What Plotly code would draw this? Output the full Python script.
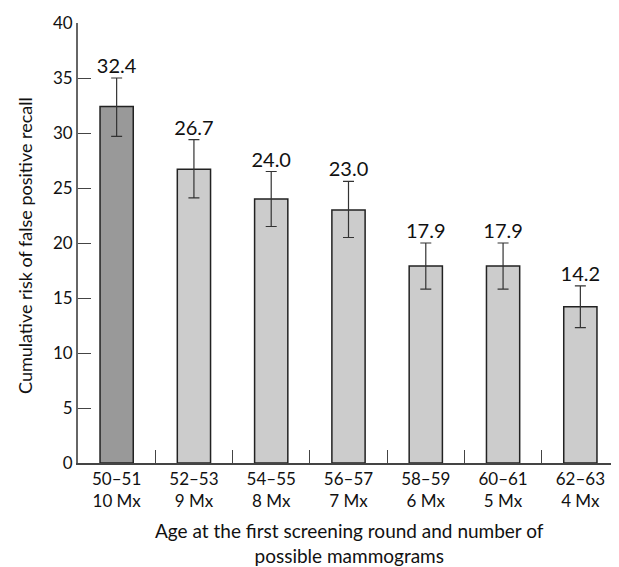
import plotly.graph_objects as go

categories = ["50–51<br>10 Mx", "52–53<br>9 Mx", "54–55<br>8 Mx", "56–57<br>7 Mx",
              "58–59<br>6 Mx", "60–61<br>5 Mx", "62–63<br>4 Mx"]
risk = [32.4, 26.7, 24.0, 23.0, 17.9, 17.9, 14.2]
ci_upper = [35.0, 29.4, 26.5, 25.6, 20.0, 20.0, 16.1]
ci_lower = [29.7, 24.1, 21.5, 20.5, 15.8, 15.8, 12.3]
labels = ["32.4", "26.7", "24.0", "23.0", "17.9", "17.9", "14.2"]
bar_colors = ["#999999"] + ["#cccccc"] * 6
x_title = "Age at the first screening round and number of<br>possible mammograms"
y_title = "Cumulative risk of false positive recall"

err_plus = [u - v for u, v in zip(ci_upper, risk)]
err_minus = [v - l for v, l in zip(risk, ci_lower)]

FONT = "Lato"
# page has an 8px body margin; figure coordinates are page minus 8
fig = go.Figure()
fig.add_trace(go.Bar(
    x=categories, y=risk, width=0.43,
    marker=dict(color=bar_colors, line=dict(color="#222222", width=1.5)),
    error_y=dict(type="data", array=err_plus, arrayminus=err_minus,
                 color="#333333", thickness=1.2, width=5.5),
    showlegend=False, hoverinfo="skip",
))
fig.add_trace(go.Scatter(
    x=categories, y=ci_upper, mode="text", text=labels,
    textposition="top center",
    textfont=dict(family=FONT, size=20, color="#111111"),
    showlegend=False, hoverinfo="skip", cliponaxis=False,
))

fig.update_layout(
    width=611, height=559,
    margin=dict(l=70, r=0, t=15, b=104, autoexpand=False),
    paper_bgcolor="white", plot_bgcolor="white",
    font=dict(family=FONT, size=16, color="#111111"),
)
fig.update_xaxes(
    type="category", range=[-0.5, 6.5], automargin=False,
    showline=True, linecolor="#444444", linewidth=1.5,
    ticks="inside", tickson="boundaries", ticklen=13, tickcolor="#444444", tickwidth=1.2,
    tickfont=dict(size=17), showgrid=False, zeroline=False,
)
fig.update_yaxes(
    range=[0, 40], tickvals=[0, 5, 10, 15, 20, 25, 30, 35, 40], automargin=False,
    showline=True, linecolor="#666666", linewidth=1.8,
    ticks="inside", ticklen=13, tickcolor="#444444", tickwidth=1.2,
    tickfont=dict(size=17), showgrid=False, zeroline=False,
)

fig.add_annotation(text=y_title, xref="paper", yref="paper",
                   x=(25 - 78) / 541, y=(463 - 246) / 440, textangle=-90,
                   xanchor="center", yanchor="middle", showarrow=False,
                   font=dict(size=18))
fig.add_annotation(text=x_title, xref="paper", yref="paper",
                   x=(349 - 78) / 541, y=(463 - 542.5) / 440,
                   xanchor="center", yanchor="middle", showarrow=False,
                   font=dict(size=19))

fig.write_html("out.html")
